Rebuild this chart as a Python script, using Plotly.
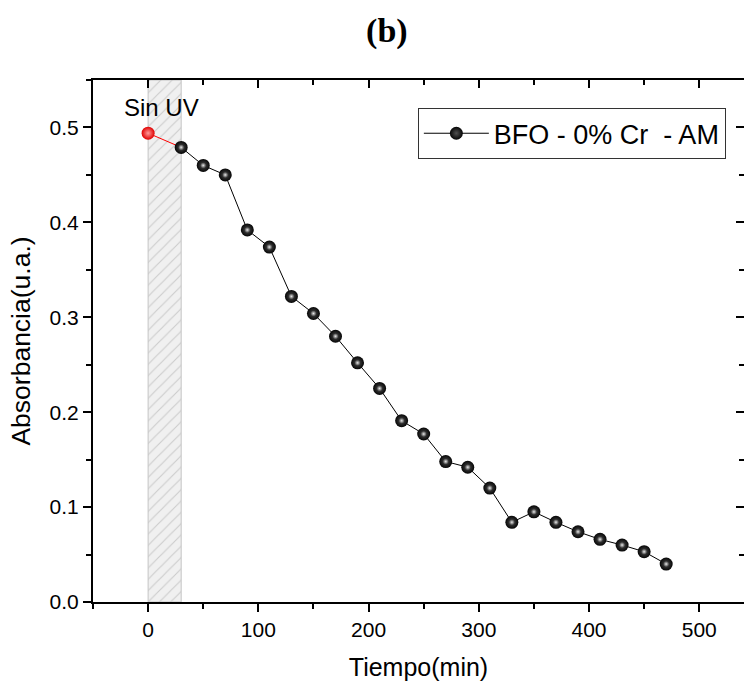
import plotly.graph_objects as go

# ---- data ----
sin_uv_time = [0]
sin_uv_abs = [0.494]

time_min = [30, 50, 70, 90, 110, 130, 150, 170, 190, 210, 230, 250,
            270, 290, 310, 330, 350, 370, 390, 410, 430, 450, 470]
absorbance = [0.479, 0.460, 0.450, 0.392, 0.374, 0.322, 0.304, 0.280,
              0.252, 0.225, 0.191, 0.177, 0.148, 0.142, 0.120, 0.084,
              0.095, 0.084, 0.074, 0.066, 0.060, 0.053, 0.040]

dark_start, dark_end = 0, 30
x_range = [-50, 540.6]
y_range = [0, 0.55]
x_ticks = [0, 100, 200, 300, 400, 500]
y_ticks = [0.0, 0.1, 0.2, 0.3, 0.4, 0.5]
series_name = "BFO - 0% Cr\u00a0\u00a0- AM"

SANS = "Liberation Sans, Arial, sans-serif"

fig = go.Figure()

# hatched "Sin UV" region
fig.add_trace(go.Scatter(
    x=[dark_start, dark_start, dark_end, dark_end, dark_start],
    y=[y_range[0], y_range[1], y_range[1], y_range[0], y_range[0]],
    mode="lines", fill="toself",
    line=dict(color="#c4c4c4", width=1),
    fillcolor="#f0f0f0",
    fillpattern=dict(shape="/", size=8, solidity=0.14,
                     fgcolor="#a8a8a8", bgcolor="#f0f0f0"),
    showlegend=False, hoverinfo="skip"))

# red connecting segment
fig.add_trace(go.Scatter(
    x=[sin_uv_time[0], time_min[0]], y=[sin_uv_abs[0], absorbance[0]],
    mode="lines", line=dict(color="red", width=1),
    showlegend=False, hoverinfo="skip"))

# main series
fig.add_trace(go.Scatter(
    x=time_min, y=absorbance, mode="lines+markers", name=series_name,
    line=dict(color="black", width=1),
    marker=dict(size=13, color="#050505",
                gradient=dict(type="radial", color="#505050"),
                line=dict(width=0))))

# highlight on the spheres
fig.add_trace(go.Scatter(
    x=time_min, y=absorbance, mode="markers",
    marker=dict(size=6, color="#303030",
                gradient=dict(type="radial", color="#e8e8e8"),
                line=dict(width=0)),
    showlegend=False, hoverinfo="skip"))

# red "Sin UV" point
fig.add_trace(go.Scatter(
    x=sin_uv_time, y=sin_uv_abs, mode="markers",
    marker=dict(size=13, color="#e00000",
                gradient=dict(type="radial", color="#ff9a9a"),
                line=dict(width=0)),
    showlegend=False))

# dummy trace for mirrored axes
fig.add_trace(go.Scatter(x=[None], y=[None], xaxis="x2", yaxis="y2",
                         showlegend=False, hoverinfo="skip"))

fig.add_annotation(x=12, y=0.521, xref="x", yref="y", text="Sin UV",
                   showarrow=False, font=dict(family=SANS, size=24, color="black"))

fig.update_layout(
    width=744, height=686,
    margin=dict(l=93, r=0, t=80, b=84),
    paper_bgcolor="white", plot_bgcolor="white",
    title=dict(text="<b>(b)</b>", x=0.52, xanchor="center", y=0.956, yanchor="middle",
               font=dict(family="Liberation Serif, Times New Roman, serif", size=34, color="black")),
    xaxis=dict(range=x_range, tickvals=x_ticks, ticks="outside", ticklen=8, tickwidth=1.5,
               tickcolor="black", showline=True, linecolor="black", linewidth=2,
               showgrid=False, zeroline=False,
               minor=dict(dtick=50, tick0=0, ticks="outside", ticklen=5, tickwidth=1.5, tickcolor="black"),
               tickfont=dict(family=SANS, size=21, color="black"),
               title=dict(text="Tiempo(min)", standoff=18,
                          font=dict(family=SANS, size=25, color="black"))),
    yaxis=dict(range=y_range, tickvals=y_ticks, tickformat=".1f", ticks="outside", ticklen=8,
               tickwidth=1.5, tickcolor="black", showline=True, linecolor="black", linewidth=2,
               showgrid=False, zeroline=False,
               minor=dict(dtick=0.05, tick0=0, ticks="outside", ticklen=5, tickwidth=1.5, tickcolor="black"),
               tickfont=dict(family=SANS, size=21, color="black"),
               title=dict(text="Absorbancia(u.a.)", standoff=11,
                          font=dict(family=SANS, size=26.5, color="black"))),
    xaxis2=dict(overlaying="x", side="top", anchor="y2", range=x_range, tickvals=x_ticks,
                ticks="inside", ticklen=8, tickwidth=1.5, tickcolor="black",
                showline=True, linecolor="black", linewidth=2, showticklabels=False,
                showgrid=False, zeroline=False,
                minor=dict(dtick=50, tick0=0, ticks="inside", ticklen=5, tickwidth=1.5, tickcolor="black")),
    yaxis2=dict(overlaying="y", side="right", anchor="x2", range=y_range, tickvals=y_ticks,
                ticks="inside", ticklen=8, tickwidth=1.5, tickcolor="black",
                showline=False, showticklabels=False, showgrid=False, zeroline=False,
                minor=dict(dtick=0.05, tick0=0, ticks="inside", ticklen=5, tickwidth=1.5, tickcolor="black")),
    legend=dict(x=0.499, y=0.946, xanchor="left", yanchor="top",
                bgcolor="white", bordercolor="#333333", borderwidth=1,
                font=dict(family=SANS, size=27, color="black"),
                itemwidth=65, tracegroupgap=0),
    showlegend=True,
)

fig.write_html("out.html")
